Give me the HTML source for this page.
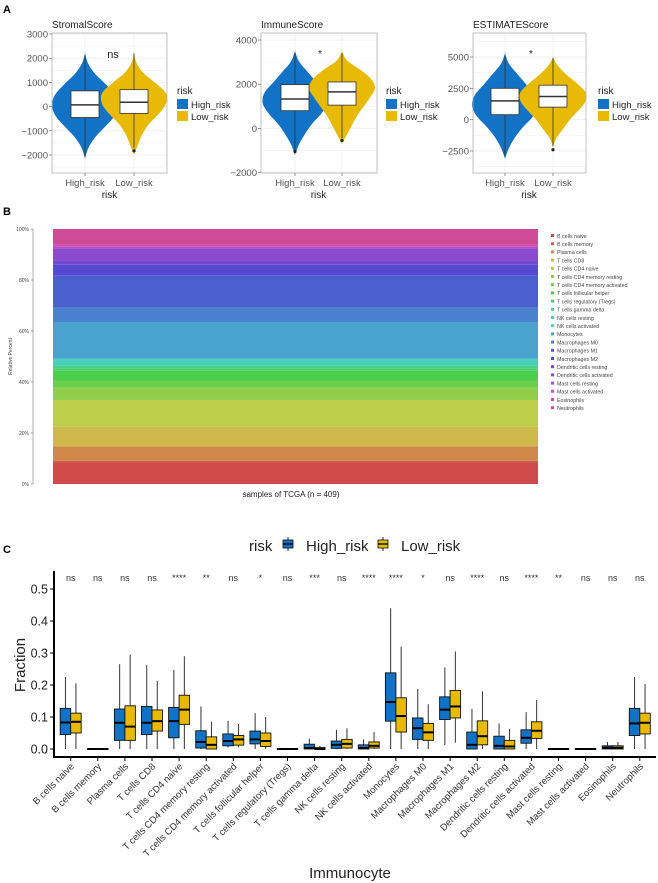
<!DOCTYPE html>
<html><head><meta charset="utf-8"><style>
body{margin:0;background:#fff}
svg{display:block;font-family:"Liberation Sans",Arial,sans-serif}
</style></head><body>
<svg id="fig" width="658" height="883" viewBox="0 0 658 883" xmlns="http://www.w3.org/2000/svg">
<text x="3" y="13" font-size="11" font-weight="bold">A</text>
<text x="3" y="215" font-size="11" font-weight="bold">B</text>
<text x="3" y="553" font-size="11" font-weight="bold">C</text>
<g id="pa"></g><g id="pb"></g><g id="pc"></g>
</svg>
<script>
const NS="http://www.w3.org/2000/svg";
const BLUE="#1172c6", YEL="#e8b905";
// ---------- Panel A data ----------
const aTitles=["StromalScore","ImmuneScore","ESTIMATEScore"];
const aSig=["ns","*","*"];
const aTicks=[[3000,2000,1000,0,-1000,-2000],[4000,2000,0,-2000],[5000,2500,0,-2500]];
const aTickLabels=[["3000","2000","1000","0","\u22121000","\u22122000"],["4000","2000","0","\u22122000"],["5000","2500","0","\u22122500"]];
const aRangeHigh=[[-2150,2200],[-1200,3500],[-3100,5300]];
const aRangeLow=[[-2000,2250],[-700,3500],[-2200,5000]];
const aDensHigh=[[0,0.1,0.3,0.6,0.88,1.0,0.92,0.65,0.32,0.1,0],[0,0.12,0.3,0.52,0.8,0.98,0.92,0.65,0.38,0.12,0],[0,0.12,0.3,0.55,0.85,1.0,0.92,0.65,0.38,0.12,0]];
const aDensLow=[[0,0.12,0.25,0.45,0.75,0.97,0.97,0.65,0.28,0.07,0],[0,0.15,0.3,0.45,0.65,0.85,1.0,0.88,0.55,0.15,0],[0,0.1,0.3,0.5,0.75,0.97,1.0,0.75,0.42,0.15,0]];
const aBoxHigh=[[-2100,-450,70,650,2150],[-1000,800,1330,1980,3400],[-2900,400,1500,2500,5100]];
const aBoxLow=[[-1700,-280,180,700,2200],[-450,1050,1650,2100,3400],[-2100,1000,1850,2750,4900]];
const aOutHigh=[[],[-1050],[]];
const aOutLow=[[-1830],[-550],[-2400]];
// layout (not data)
const aPlots=[{x0:52,x1:167,hx:85,lx:134,v0:3000,y0:34,v1:-2000,y1:155,lg:177,sx:113},
 {x0:261,x1:377,hx:295,lx:342,v0:4000,y0:40,v1:-2000,y1:172.5,lg:386,sx:320},
 {x0:473,x1:586,hx:505,lx:553,v0:5000,y0:57,v1:-2500,y1:151,lg:598,sx:531}];
function el(tag,attrs,parent,txt){const e=document.createElementNS(NS,tag);for(const k in attrs)e.setAttribute(k,attrs[k]);if(txt!==undefined)e.textContent=txt;parent.appendChild(e);return e;}
const pa=document.getElementById('pa');
aPlots.forEach((p,i)=>{
  const yS=v=>p.y0+(v-p.v0)*(p.y1-p.y0)/(p.v1-p.v0);
  const g=el('g',{},pa);
  
  
  const top=33,bot=173;
  const ts=aTicks[i];
  const step=ts[0]-ts[1];
  for(let v=ts[ts.length-1]-step/2;v<=ts[0]+step;v+=step/2){const y=yS(v);if(y<top||y>bot)continue;
    el('line',{x1:p.x0,x2:p.x1,y1:y,y2:y,stroke:'#ededed','stroke-width':(Math.abs((v-ts[0])/step)%1===0)?0.8:0.5},g);}
  [p.hx,p.lx].forEach(x=>el('line',{x1:x,x2:x,y1:top,y2:bot,stroke:'#ededed','stroke-width':0.8},g));
  const drawViolin=(rng,dens,cx,col,name)=>{
    const n=dens.length,half=33;let pts=[];
    for(let k=0;k<n;k++){const v=rng[0]+k*(rng[1]-rng[0])/(n-1);pts.push([cx+dens[k]*half,yS(v)]);}
    for(let k=n-1;k>=0;k--){const v=rng[0]+k*(rng[1]-rng[0])/(n-1);pts.push([cx-dens[k]*half,yS(v)]);}
    let d='M'+pts[0].join(',');
    for(let k=0;k<pts.length-1;k++){const p0=pts[Math.max(k-1,0)],p1=pts[k],p2=pts[k+1],p3=pts[Math.min(k+2,pts.length-1)];
      d+=` C${p1[0]+(p2[0]-p0[0])/6},${p1[1]+(p2[1]-p0[1])/6} ${p2[0]-(p3[0]-p1[0])/6},${p2[1]-(p3[1]-p1[1])/6} ${p2[0]},${p2[1]}`;}
    const v=el('path',{d:d+'Z',fill:col},g);
    
    
  };
  drawViolin(aRangeHigh[i],aDensHigh[i],p.hx,BLUE,'violin-high-risk');
  drawViolin(aRangeLow[i],aDensLow[i],p.lx,YEL,'violin-low-risk');
  const drawBox=(b,cx,outs,name)=>{
    const w=28;
    el('line',{x1:cx,x2:cx,y1:yS(b[0]),y2:yS(b[4]),stroke:'#333','stroke-width':0.8},g);
    const r=el('rect',{x:cx-w/2,y:yS(b[3]),width:w,height:yS(b[1])-yS(b[3]),fill:'#fff',stroke:'#333','stroke-width':0.8},g);
    
    
    el('line',{x1:cx-w/2,x2:cx+w/2,y1:yS(b[2]),y2:yS(b[2]),stroke:'#333','stroke-width':1.5},g);
    outs.forEach(o=>el('circle',{cx:cx,cy:yS(o),r:1.6,fill:'#222'},g));
  };
  drawBox(aBoxHigh[i],p.hx,aOutHigh[i],'box-high-risk');
  drawBox(aBoxLow[i],p.lx,aOutLow[i],'box-low-risk');
  el('rect',{x:p.x0,y:top,width:p.x1-p.x0,height:bot-top,fill:'none',stroke:'#b3b3b3','stroke-width':0.8},g);
  ts.forEach((v,k)=>{const y=yS(v);el('line',{x1:p.x0-3,x2:p.x0,y1:y,y2:y,stroke:'#555','stroke-width':0.6},g);
    el('text',{x:p.x0-4,y:y+3.5,'text-anchor':'end','font-size':9.5,fill:'#555'},g,aTickLabels[i][k]);});
  [[p.hx,'High_risk'],[p.lx,'Low_risk']].forEach(([x,t])=>{el('line',{x1:x,x2:x,y1:bot,y2:bot+3,stroke:'#555','stroke-width':0.6},g);
    el('text',{x:x,y:186,'text-anchor':'middle','font-size':9.5,fill:'#555'},g,t);});
  el('text',{x:(p.hx+p.lx)/2,y:198,'text-anchor':'middle','font-size':10,fill:'#222'},g,'risk');
  const t=el('text',{x:p.x0,y:28,'font-size':10,fill:'#222'},g,aTitles[i]);
  
  
  el('text',{x:p.sx,y:i==0?58:57,'text-anchor':'middle','font-size':i==0?11:10,fill:'#222'},g,aSig[i]);
  const lg=el('g',{},g);
  
  
  el('text',{x:p.lg,y:94,'font-size':10,fill:'#222'},lg,'risk');
  el('rect',{x:p.lg,y:99,width:11,height:10,fill:BLUE},lg);
  el('rect',{x:p.lg,y:111,width:11,height:10,fill:YEL},lg);
  el('text',{x:p.lg+14,y:108,'font-size':9.5,fill:'#222'},lg,'High_risk');
  el('text',{x:p.lg+14,y:120,'font-size':9.5,fill:'#222'},lg,'Low_risk');
});

// ---------- shared categories ----------
const cells=["B cells naive","B cells memory","Plasma cells","T cells CD8","T cells CD4 naive","T cells CD4 memory resting","T cells CD4 memory activated","T cells follicular helper","T cells regulatory (Tregs)","T cells gamma delta","NK cells resting","NK cells activated","Monocytes","Macrophages M0","Macrophages M1","Macrophages M2","Dendritic cells resting","Dendritic cells activated","Mast cells resting","Mast cells activated","Eosinophils","Neutrophils"];
// Panel B: mean composition per cell type
const bMean=[0.09,0.005,0.06,0.08,0.11,0.05,0.03,0.04,0.01,0.01,0.018,0.012,0.15,0.06,0.13,0.045,0.018,0.05,0.003,0.003,0.008,0.065];
const bTicks=[0,20,40,60,80,100];
const bSamples=409;
const bHue=[0,8,28,50,68,88,105,120,135,150,165,178,200,215,230,245,258,270,285,300,312,325];
const pb=document.getElementById('pb');
(function(){
  const x0=53,x1=538,y0=229,y1=484;
  const yS=p=>y1-(p/100)*(y1-y0);
  const tot=bMean.reduce((a,b)=>a+b,0);
  const col=i=>`hsl(${bHue[i]},58%,55%)`;
  const g=el('g',{},pb);
  
  
  let cum=0;
  bMean.forEach((m,i)=>{const f=m/tot*100;
    const r=el('rect',{x:x0,y:yS(cum+f),width:x1-x0,height:yS(cum)-yS(cum+f),fill:col(i)},g);
    
    
    cum+=f;});
  el('line',{x1:33,x2:33,y1:y0,y2:y1,stroke:'#777','stroke-width':0.6},g);
  bTicks.forEach(t=>{el('line',{x1:31,x2:33,y1:yS(t),y2:yS(t),stroke:'#777','stroke-width':0.6},g);
    el('text',{x:29,y:yS(t)+2,'text-anchor':'end','font-size':5,fill:'#444'},g,t+'%');});
  el('text',{x:12,y:(y0+y1)/2,'font-size':5,fill:'#444','text-anchor':'middle',transform:`rotate(-90 12 ${(y0+y1)/2})`},g,'Relative Percent');
  el('text',{x:291,y:497,'font-size':8,fill:'#222','text-anchor':'middle'},g,`samples of TCGA (n = ${bSamples})`);
  const lg=el('g',{},pb);
  
  
  cells.forEach((c,i)=>{const y=236+i*8.2;
    el('rect',{x:551,y:y-2,width:3,height:3,fill:col(i)},lg);
    el('text',{x:557,y:y+1.8,'font-size':5.3,fill:'#444'},lg,c);});
})();

// ---------- Panel C data ----------
const cSig=["ns","ns","ns","ns","****","**","ns","*","ns","***","ns","****","****","*","ns","****","ns","****","**","ns","ns","ns"];
const cHigh=[[0,.045,.083,.127,.225],[0,0,0,0,0],[0,.027,.082,.125,.265],[0,.045,.082,.133,.262],[0,.035,.087,.13,.247],[0,.003,.022,.057,.133],[.005,.01,.025,.047,.088],[0,.016,.03,.056,.112],[0,0,0,0,0],[0,0,.003,.015,.032],[0,.002,.013,.025,.06],[0,0,.003,.013,.03],[0,.087,.147,.238,.44],[0,.03,.065,.097,.188],[.012,.092,.123,.163,.255],[0,0,.013,.053,.125],[0,0,.01,.04,.08],[0,.018,.035,.06,.115],[0,0,0,0,0],[0,0,0,0,0],[0,0,.004,.01,.022],[0,.042,.08,.127,.225]];
const cLow=[[0,.05,.085,.112,.205],[0,0,0,0,0],[0,.027,.07,.135,.295],[0,.056,.087,.122,.213],[0,.077,.123,.168,.29],[0,0,.013,.038,.085],[.005,.012,.03,.042,.078],[0,.008,.025,.05,.1],[0,0,0,0,0],[0,0,0,.005,.01],[0,.003,.016,.03,.065],[0,.003,.01,.022,.053],[0,.053,.103,.16,.32],[0,.027,.052,.08,.14],[.02,.097,.133,.183,.305],[0,.013,.04,.088,.18],[0,0,.008,.027,.063],[0,.033,.057,.085,.153],[0,0,0,0,0],[0,0,0,0,0],[0,0,.004,.01,.022],[0,.047,.082,.112,.203]];
const cTicks=[0,0.1,0.2,0.3,0.4,0.5];
const pc=document.getElementById('pc');
(function(){
  const yS=v=>749-v*320;
  const xS=i=>70.7+i*27.1;
  const g=el('g',{},pc);
  
  
  const w=10.5;
  const drawBox=(b,cx,col,name)=>{
    el('line',{x1:cx,x2:cx,y1:yS(b[0]),y2:yS(b[4]),stroke:'#333','stroke-width':1},g);
    const h=Math.max(yS(b[1])-yS(b[3]),0.01);
    const r=el('rect',{x:cx-w/2,y:yS(b[3]),width:w,height:h,fill:col,stroke:'#111','stroke-width':0.9},g);
    
    
    el('line',{x1:cx-w/2,x2:cx+w/2,y1:yS(b[2]),y2:yS(b[2]),stroke:'#000','stroke-width':2},g);
  };
  cells.forEach((c,i)=>{
    drawBox(cHigh[i],xS(i)-w/2,BLUE,'box-high-risk');
    drawBox(cLow[i],xS(i)+w/2,YEL,'box-low-risk');
    el('text',{x:xS(i),y:581,'text-anchor':'middle','font-size':9,fill:'#333'},g,cSig[i]);
    el('line',{x1:xS(i),x2:xS(i),y1:757,y2:761,stroke:'#000','stroke-width':1},g);
    el('text',{x:xS(i)+4,y:767,'text-anchor':'end','font-size':9.6,fill:'#333',transform:`rotate(-45 ${xS(i)+4} 767)`},g,c);
  });
  el('line',{x1:54,x2:54,y1:571,y2:758,stroke:'#000','stroke-width':2},g);
  el('line',{x1:53,x2:656,y1:757,y2:757,stroke:'#000','stroke-width':2},g);
  cTicks.forEach(t=>{el('line',{x1:50,x2:54,y1:yS(t),y2:yS(t),stroke:'#000','stroke-width':1},g);
    el('text',{x:48,y:yS(t)+4.5,'text-anchor':'end','font-size':12.5,fill:'#222'},g,t.toFixed(1));});
  el('text',{x:25,y:665,'text-anchor':'middle','font-size':15,fill:'#222',transform:'rotate(-90 25 665)'},g,'Fraction');
  el('text',{x:350,y:878,'text-anchor':'middle','font-size':15,fill:'#222'},g,'Immunocyte');
  const lg=el('g',{},pc);
  
  
  el('text',{x:249,y:551,'font-size':15,fill:'#222'},lg,'risk');
  [[283,BLUE,'High_risk'],[378,YEL,'Low_risk']].forEach(([x,cl,t])=>{
    el('line',{x1:x+5,x2:x+5,y1:537,y2:551,stroke:'#222','stroke-width':1},lg);
    el('rect',{x:x,y:540,width:10,height:8,fill:cl,stroke:'#111','stroke-width':0.8},lg);
    el('line',{x1:x,x2:x+10,y1:544,y2:544,stroke:'#000','stroke-width':1.3},lg);
    el('text',{x:x+23,y:551,'font-size':15,fill:'#222'},lg,t);});
})();
</script>
</body></html>
